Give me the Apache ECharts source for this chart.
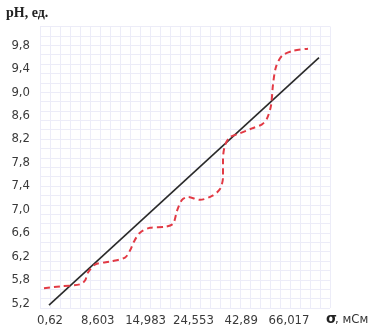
<!DOCTYPE html>
<html>
<head>
<meta charset="utf-8">
<script src="https://cdn.jsdelivr.net/npm/echarts@6/dist/echarts.min.js"></script>
<style>
  html, body { margin: 0; padding: 0; background: #fff; }
  #main { width: 371px; height: 327px; }
</style>
</head>
<body>
<div id="main"></div>
<script>
// tick labels (axes are evenly spaced, labels are not linear)
const xLabels = ['0,62', '8,603', '14,983', '24,553', '42,89', '66,017'];
const yLabels = ['5,2', '5,8', '6,2', '6,6', '7,0', '7,4', '7,8', '8,2', '8,6', '9,0', '9,4', '9,8'];

// positions in axis units
const trendLine = [[-0.02, -0.08], [5.38, 10.47]];
const measured = [
  [-0.12, 0.64], [0.2, 0.72], [0.6, 0.81], [0.7, 0.97], [0.76, 1.31], [0.9, 1.65],
  [1.2, 1.78], [1.5, 1.95], [1.6, 2.25], [1.68, 2.63], [1.8, 3.01], [2.0, 3.22],
  [2.3, 3.26], [2.46, 3.39], [2.54, 3.94], [2.64, 4.41], [2.76, 4.53], [3.0, 4.41],
  [3.24, 4.58], [3.4, 4.87], [3.46, 5.38], [3.46, 6.14], [3.5, 6.74], [3.6, 7.08],
  [3.8, 7.25], [4.04, 7.46], [4.24, 7.63], [4.34, 7.88], [4.42, 8.43], [4.46, 9.32],
  [4.52, 10.08], [4.64, 10.55], [4.86, 10.76], [5.16, 10.85]
];

// x labels sit a bit tighter than the grid units
const xStep = 0.956;
const xLabelPos = xLabels.map((_, i) => +(i * xStep).toFixed(3));

const chart = echarts.init(document.getElementById('main'));
const labelFont = { color: '#3a3a3a', fontSize: 13, fontFamily: 'DejaVu Sans Condensed' };

chart.setOption({
  animation: false,
  grid: { left: 40, right: 41, top: 26.5, bottom: 17.3 },
  xAxis: {
    type: 'value', min: -0.2, max: 5.6, interval: 0.2,
    axisLine: { show: false }, axisTick: { show: false },
    splitLine: { lineStyle: { color: '#ececf8', width: 1 } },
    axisLabel: Object.assign({
      customValues: xLabelPos,
      formatter: v => xLabels[Math.round(v / xStep)],
      margin: 6
    }, labelFont)
  },
  yAxis: {
    type: 'value', min: -0.2, max: 11.8, interval: 0.4,
    axisLine: { show: false }, axisTick: { show: false },
    splitLine: { lineStyle: { color: '#ececf8', width: 1 } },
    axisLabel: Object.assign({
      customValues: [0, 1, 2, 3, 4, 5, 6, 7, 8, 9, 10, 11],
      formatter: v => yLabels[Math.round(v)],
      margin: 10
    }, labelFont)
  },
  graphic: [
    { type: 'text', left: 6, top: 6,
      style: { text: 'pH, ед.', font: 'bold 14px "Liberation Serif"', fill: '#222' } },
    { type: 'text', left: 326, top: 312,
      style: { text: 'σ', font: 'bold 14px "DejaVu Sans"', fill: '#222' } },
    { type: 'text', left: 335, top: 313,
      style: { text: ', мСм', font: '13px "DejaVu Sans Condensed"', fill: '#333' } }
  ],
  series: [
    {
      type: 'line', data: trendLine, symbol: 'none',
      lineStyle: { color: '#2a2a2a', width: 1.6 }
    },
    {
      type: 'line', data: measured, symbol: 'none', smooth: 0.3,
      lineStyle: { color: '#e23a45', width: 2, type: [6, 4] }
    }
  ]
});
</script>
</body>
</html>
